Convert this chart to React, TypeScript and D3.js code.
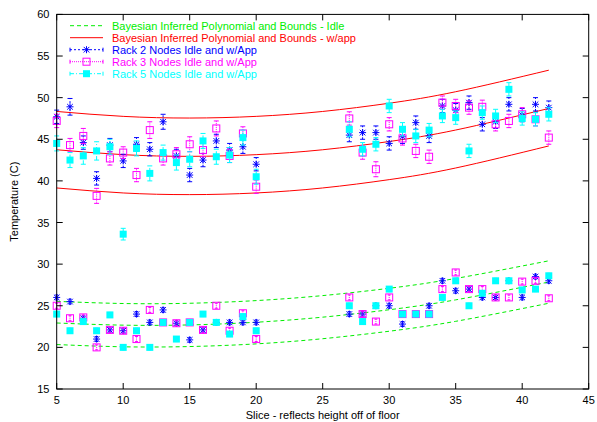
import * as d3 from "d3";

// slices (x) shared by every measured series
const slices = [5, 6, 7, 8, 9, 10, 11, 12, 13, 14, 15, 16, 17, 18, 19, 20,
  27, 28, 29, 30, 31, 32, 33, 34, 35, 36, 37, 38, 39, 40, 41, 42];

// w/App temperatures
const rack2App = [47.7, 48.9, 44.6, 40.3, 44.3, 42.4, 44.4, 43.8, 47.1, 43.0, 40.7, 42.5, 44.8, 43.7, 44.1, 42.0,
  45.5, 45.8, 45.8, 44.5, 45.3, 47.0, 45.4, 49.0, 48.5, 49.4, 46.8, 47.1, 49.2, 47.9, 49.2, 48.8];
const rack3App = [47.2, 44.3, 45.4, 38.2, 42.7, 43.4, 40.7, 46.1, 42.7, 43.2, 44.4, 43.7, 46.3, 43.0, 45.7, 39.3,
  47.5, 43.4, 41.4, 46.8, 45.1, 43.6, 42.9, 49.4, 49.0, 48.8, 48.9, 46.8, 47.2, 48.0, 47.4, 45.2];
const rack5App = [44.5, 42.5, 43.0, 43.6, 44.1, 33.6, 43.9, 40.9, 43.4, 42.2, 42.6, 44.8, 42.9, 43.1, 45.2, 40.5,
  46.2, 43.8, 44.4, 49.0, 46.2, 45.4, 46.1, 47.8, 47.6, 43.6, 48.2, 47.8, 51.0, 47.5, 47.4, 48.0];
const rack2AppErr = [0.8, 1.0, 0.8, 0.8, 0.8, 0.8, 0.8, 0.8, 0.9, 0.8, 0.8, 0.8, 0.8, 0.8, 0.8, 0.8,
  0.8, 0.8, 0.8, 0.8, 0.8, 0.8, 0.8, 0.8, 0.8, 0.8, 0.8, 0.8, 0.8, 0.8, 0.8, 0.8];
const rack3AppErr = [0.8, 0.8, 0.9, 0.9, 0.8, 0.7, 0.8, 1.0, 0.8, 0.8, 0.9, 0.8, 0.9, 0.8, 0.8, 0.8,
  0.8, 0.8, 0.9, 0.8, 0.8, 0.8, 0.8, 0.8, 0.8, 0.8, 0.8, 0.8, 0.8, 0.8, 0.8, 0.8];
const rack5AppErr = [0.9, 0.9, 1.0, 1.1, 0.9, 0.7, 0.9, 0.9, 0.9, 0.9, 0.9, 0.9, 0.9, 0.9, 0.9, 0.9,
  0.9, 0.8, 0.8, 0.8, 0.8, 0.8, 0.8, 0.8, 0.8, 0.8, 0.8, 0.8, 0.8, 0.8, 0.8, 0.8];

// Idle temperatures
const rack2Idle = [26.0, 25.5, 23.5, 21.0, 22.1, 22.0, 24.0, 23.0, 24.5, 22.9, 20.9, 22.1, 23.0, 23.0, 23.0, 23.0,
  24.0, 24.0, 25.0, 25.0, 22.8, 24.0, 25.0, 28.0, 26.8, 27.0, 26.0, 26.0, 28.0, 26.0, 28.5, 28.0];
const rack3Idle = [25.0, 23.5, 23.6, 20.0, 22.1, 22.0, 21.0, 24.5, 23.0, 22.9, 23.0, 22.1, 25.0, 22.0, 24.1, 21.0,
  26.0, 24.0, 23.1, 26.0, 24.0, 24.0, 24.0, 27.0, 29.0, 27.0, 27.0, 26.0, 26.0, 27.9, 28.0, 25.9];
const rack5Idle = [24.0, 22.0, 23.1, 22.0, 23.9, 20.0, 22.0, 20.0, 23.0, 21.0, 23.0, 24.0, 23.0, 21.6, 23.7, 22.0,
  25.0, 23.1, 25.0, 27.0, 24.0, 24.0, 24.0, 26.0, 28.0, 25.0, 26.5, 28.0, 28.0, 26.9, 27.0, 28.6];
const idleErr = 0.3;

// fitted polynomial and bounds
const fitX = [5, 10, 15, 20, 25, 30, 35, 42];
const idleHigh = [25.53, 25.27, 25.30, 25.62, 26.22, 27.10, 28.28, 30.40];
const idleMid = [22.93, 22.67, 22.70, 23.02, 23.63, 24.52, 25.71, 27.85];
const idleLow = [20.34, 20.07, 20.10, 20.42, 21.04, 21.94, 23.13, 25.30];
const appHigh = [48.34, 47.75, 47.55, 47.75, 48.34, 49.33, 50.71, 53.30];
const appMid = [43.74, 43.15, 42.95, 43.15, 43.74, 44.73, 46.11, 48.70];
const appLow = [39.15, 38.55, 38.35, 38.55, 39.15, 40.15, 41.55, 44.20];

const xTicks = [5, 10, 15, 20, 25, 30, 35, 40, 45];
const yTicks = [15, 20, 25, 30, 35, 40, 45, 50, 55, 60];

const legendLabels = [
  "Bayesian Inferred Polynomial and Bounds - Idle",
  "Bayesian Inferred Polynomial and Bounds - w/app",
  "Rack 2 Nodes Idle and w/App",
  "Rack 3 Nodes Idle and w/App",
  "Rack 5 Nodes Idle and w/App",
];

const W = 597, H = 422;
const GREEN = "#00ee00", RED = "#ff0000", BLUE = "#0000ff", PINK = "#ff00ff", CYAN = "#00ffff";
const font = "'Liberation Sans', Arial, sans-serif";

const x = d3.scaleLinear().domain([5, 45]).range([56.7, 588.7]);
const y = d3.scaleLinear().domain([15, 60]).range([389, 14.4]);

const curve = d3.line<number>().x((_, i) => x(fitX[i])).y(d => y(d)).curve(d3.curveNatural);

const Asterisk = ({ cx, cy, c }: { cx: number; cy: number; c: string }) => {
  const r = 3.5;
  return (
    <g stroke={c} strokeWidth={1}>
      <line x1={cx - r} x2={cx + r} y1={cy} y2={cy} />
      <line x1={cx} x2={cx} y1={cy - r} y2={cy + r} />
      <line x1={cx - r * 0.8} x2={cx + r * 0.8} y1={cy - r * 0.8} y2={cy + r * 0.8} />
      <line x1={cx - r * 0.8} x2={cx + r * 0.8} y1={cy + r * 0.8} y2={cy - r * 0.8} />
    </g>
  );
};

const Marker = ({ kind, cx, cy, c }: { kind: string; cx: number; cy: number; c: string }) => {
  if (kind === "star") return <Asterisk cx={cx} cy={cy} c={c} />;
  if (kind === "open") return <rect x={cx - 3.5} y={cy - 3.5} width={7} height={7} fill="none" stroke={c} strokeWidth={1} />;
  return <rect x={cx - 3.5} y={cy - 3.5} width={7} height={7} fill={c} />;
};

const series = [
  { vals: [rack2Idle, rack2App], errs: [null, rack2AppErr], c: BLUE, kind: "star", dash: "2,2" },
  { vals: [rack3Idle, rack3App], errs: [null, rack3AppErr], c: PINK, kind: "open", dash: "1,1" },
  { vals: [rack5Idle, rack5App], errs: [null, rack5AppErr], c: CYAN, kind: "fill", dash: "4,2,1,2" },
];

export default function App() {
  return (
    <svg width={W} height={H} style={{ position: "fixed", left: 0, top: 0, background: "#fff" }} fontFamily={font}>
      {/* fitted curves */}
      {[idleHigh, idleMid, idleLow].map((d, i) => (
        <path key={"g" + i} d={curve(d) || ""} fill="none" stroke={GREEN} strokeWidth={1} strokeDasharray="4,3" />
      ))}
      {[appHigh, appMid, appLow].map((d, i) => (
        <path key={"r" + i} d={curve(d) || ""} fill="none" stroke={RED} strokeWidth={1} />
      ))}

      {/* measured points with error bars */}
      {series.map((s, si) => (
        <g key={si}>
          {s.vals.map((vals, gi) =>
            vals.map((v, i) => {
              const e = s.errs[gi] ? (s.errs[gi] as number[])[i] : idleErr;
              const cx = x(slices[i]);
              const y0 = y(v - e), y1 = y(v + e);
              const cap = s.errs[gi] ? 2.5 : 1.5;
              return (
                <g key={gi + "-" + i}>
                  <line x1={cx} x2={cx} y1={y0} y2={y1} stroke={s.c} strokeWidth={1} strokeDasharray={s.dash} />
                  <line x1={cx - cap} x2={cx + cap} y1={y0} y2={y0} stroke={s.c} strokeWidth={1} />
                  <line x1={cx - cap} x2={cx + cap} y1={y1} y2={y1} stroke={s.c} strokeWidth={1} />
                  <Marker kind={s.kind} cx={cx} cy={y(v)} c={s.c} />
                </g>
              );
            })
          )}
        </g>
      ))}

      {/* frame and ticks */}
      <rect x={x(5)} y={y(60)} width={x(45) - x(5)} height={y(15) - y(60)} fill="none" stroke="#000" strokeWidth={1} />
      {xTicks.map(t => (
        <g key={"xt" + t}>
          <line x1={x(t)} x2={x(t)} y1={y(15)} y2={y(15) - 6} stroke="#000" />
          <line x1={x(t)} x2={x(t)} y1={y(60)} y2={y(60) + 6} stroke="#000" />
          <text x={x(t)} y={404} fontSize={11} textAnchor="middle" fill="#000">{t}</text>
        </g>
      ))}
      {yTicks.map(t => (
        <g key={"yt" + t}>
          <line x1={x(5)} x2={x(5) + 6} y1={y(t)} y2={y(t)} stroke="#000" />
          <line x1={x(45)} x2={x(45) - 6} y1={y(t)} y2={y(t)} stroke="#000" />
          <text x={49.5} y={y(t) + 4} fontSize={11} textAnchor="end" fill="#000">{t}</text>
        </g>
      ))}
      <text x={(x(5) + x(45)) / 2} y={419} fontSize={11} textAnchor="middle" fill="#000">
        Slice - reflects height off of floor
      </text>
      <text transform={`translate(18,${(y(15) + y(60)) / 2}) rotate(-90)`} fontSize={11} textAnchor="middle" fill="#000">
        Temperature (C)
      </text>

      {/* legend */}
      {legendLabels.map((lab, i) => {
        const ly = 25.7 + i * 12;
        const c = [GREEN, RED, BLUE, PINK, CYAN][i];
        const dash = ["4,3", null, "2,2", "1,1", "4,2,1,2"][i];
        return (
          <g key={"lg" + i}>
            <line x1={70} x2={103} y1={ly} y2={ly} stroke={c} strokeWidth={1} strokeDasharray={dash || undefined} />
            {i >= 2 && (
              <>
                <line x1={70} x2={70} y1={ly - 2} y2={ly + 2} stroke={c} />
                <line x1={103} x2={103} y1={ly - 2} y2={ly + 2} stroke={c} />
                <Marker kind={series[i - 2].kind} cx={86.5} cy={ly} c={c} />
              </>
            )}
            <text x={112} y={ly + 4} fontSize={11} fill={c}>{lab}</text>
          </g>
        );
      })}
    </svg>
  );
}
